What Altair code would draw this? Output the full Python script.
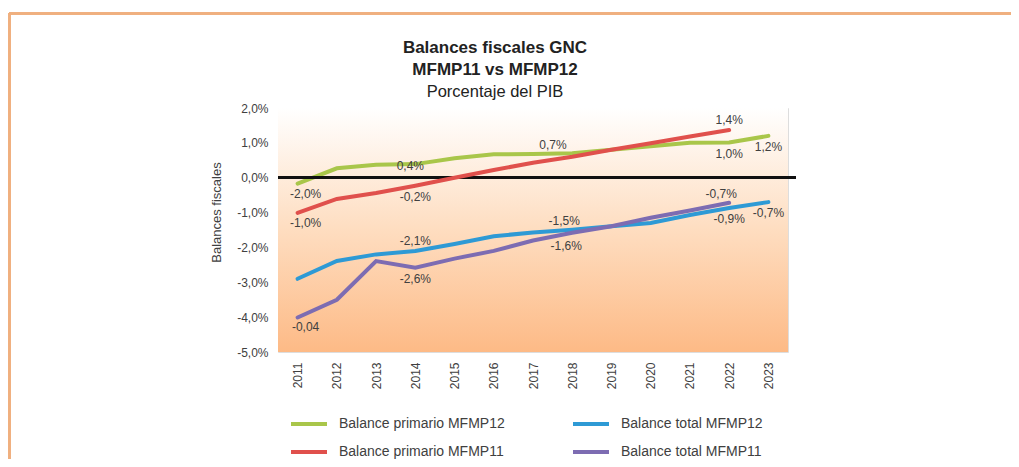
import altair as alt
import pandas as pd

# ---------------- data ----------------
years = ["2011", "2012", "2013", "2014", "2015", "2016", "2017",
         "2018", "2019", "2020", "2021", "2022", "2023"]

series_names = ["Balance primario MFMP12", "Balance total MFMP12",
                "Balance primario MFMP11", "Balance total MFMP11"]

primario_mfmp12 = [-0.17, 0.27, 0.37, 0.39, 0.56, 0.67, 0.68, 0.70, 0.80, 0.90, 1.00, 1.01, 1.20]
total_mfmp12 = [-2.90, -2.39, -2.20, -2.10, -1.90, -1.68, -1.57, -1.49, -1.39, -1.30, -1.07, -0.87, -0.70]
primario_mfmp11 = [-1.01, -0.61, -0.44, -0.23, 0.00, 0.22, 0.43, 0.60, 0.80, 0.99, 1.18, 1.37, None]
total_mfmp11 = [-4.01, -3.50, -2.39, -2.58, -2.32, -2.10, -1.80, -1.58, -1.39, -1.15, -0.94, -0.72, None]

series_colors = ["#A9C64A", "#2E9AD5", "#E0504C", "#7D6CB2"]

label_series = ["Balance primario MFMP12", "Balance primario MFMP12", "Balance primario MFMP12",
                "Balance primario MFMP12", "Balance primario MFMP12",
                "Balance primario MFMP11", "Balance primario MFMP11", "Balance primario MFMP11",
                "Balance total MFMP12", "Balance total MFMP12", "Balance total MFMP12", "Balance total MFMP12",
                "Balance total MFMP11", "Balance total MFMP11", "Balance total MFMP11", "Balance total MFMP11"]
label_years = ["2011", "2014", "2017", "2022", "2023",
               "2011", "2014", "2022",
               "2014", "2018", "2022", "2023",
               "2011", "2014", "2018", "2022"]
label_texts = ["-2,0%", "0,4%", "0,7%", "1,0%", "1,2%",
               "-1,0%", "-0,2%", "1,4%",
               "-2,1%", "-1,5%", "-0,9%", "-0,7%",
               "-0,04", "-2,6%", "-1,6%", "-0,7%"]
label_places = ["below_right", "on", "above_right", "below", "below",
                "below_right", "below", "above",
                "above", "above_left", "below", "below",
                "below_right", "below", "below_left", "above_left"]

# ---------------- tables ----------------
values_by_series = {
    "Balance primario MFMP12": primario_mfmp12,
    "Balance total MFMP12": total_mfmp12,
    "Balance primario MFMP11": primario_mfmp11,
    "Balance total MFMP11": total_mfmp11,
}
rows = []
for s, vals in values_by_series.items():
    for y, v in zip(years, vals):
        if v is not None:
            rows.append({"year": y, "serie": s, "value": v})
df = pd.DataFrame(rows)

lab = pd.DataFrame({"serie": label_series, "year": label_years,
                    "text": label_texts, "place": label_places})
lab = lab.merge(df, on=["serie", "year"], how="left")

# ---------------- layout ----------------
W, H = 510, 244
PAD_L, PAD_T = 270, 100
FONT = "Liberation Sans"
TXT = "#404040"

x_scale = alt.Scale(type="point", padding=0.5, domain=years)
y_scale = alt.Scale(domain=[-5, 2], nice=False, zero=False)

x_axis = alt.Axis(title=None, labelAngle=270, labelFontSize=12, labelColor=TXT,
                  labelFont=FONT, ticks=False, domain=False, labelPadding=10,
                  labelBaseline="middle", labelAlign="right", labelOverlap=False)
y_axis = alt.Axis(title="Balances fiscales", values=[-5, -4, -3, -2, -1, 0, 1, 2],
                  labelExpr="(datum.value < 0 ? '-' : '') + replace(format(abs(datum.value), '.1f'), '.', ',') + '%'",
                  grid=False, ticks=False, domain=False, labelPadding=10,
                  labelOverlap=False, labelFlush=False,
                  labelFontSize=12, labelColor=TXT, labelFont=FONT,
                  titleFont=FONT, titleFontSize=13, titleFontWeight="normal",
                  titleColor=TXT, titleX=-55, titleY=104)

x_enc = alt.X("year:O", scale=x_scale, axis=x_axis)
y_enc = alt.Y("value:Q", scale=y_scale, axis=y_axis)
color_enc = alt.Color("serie:N", scale=alt.Scale(domain=series_names, range=series_colors),
                      legend=alt.Legend(title=None, orient="none", legendX=11, legendY=296,
                                        direction="horizontal",
                                        columns=2, columnPadding=60, rowPadding=-20,
                                        symbolType="stroke", symbolSize=1296,
                                        symbolStrokeWidth=4, labelFontSize=14, labelLimit=0,
                                        labelColor=TXT, labelFont=FONT, labelOffset=10))

background = alt.Chart(df).mark_rect(
    fill=alt.Gradient(gradient="linear", x1=0, x2=0, y1=0, y2=1,
                      stops=[alt.GradientStop(color="#FFFFFF", offset=0),
                             alt.GradientStop(color="#FEDDC0", offset=0.5),
                             alt.GradientStop(color="#FDBA86", offset=1)])
).encode(x=alt.value(0), x2=alt.value(W), y=alt.value(0), y2=alt.value(H))

lines12 = alt.Chart(df).transform_filter(
    alt.FieldOneOfPredicate(field="serie", oneOf=series_names[:2])
).mark_line(strokeWidth=4, strokeCap="round").encode(x=x_enc, y=y_enc, color=color_enc)
lines11 = alt.Chart(df).transform_filter(
    alt.FieldOneOfPredicate(field="serie", oneOf=series_names[2:])
).mark_line(strokeWidth=4, strokeCap="round").encode(x=x_enc, y=y_enc, color=color_enc)

zero = alt.Chart(df).mark_rule(color="#111111", strokeWidth=2).encode(
    y=alt.Y(datum=0, scale=y_scale, axis=y_axis), x=alt.value(0), x2=alt.value(W + 8))

place_offsets = {
    "below": (0, 11), "below_right": (8, 10), "below_left": (-6, 13),
    "above": (0, -10), "above_left": (-8, -9), "above_right": (20, -9),
    "on": (-5, 2),
}
label_layers = []
for place, (dx, dy) in place_offsets.items():
    label_layers.append(
        alt.Chart(lab).transform_filter(alt.datum.place == place).mark_text(
            dx=dx, dy=dy, fontSize=12, font=FONT, color=TXT, baseline="middle", align="center"
        ).encode(x=x_enc, y=y_enc, text="text:N")
    )

frame_color = "#EFB07F"
frame_top = alt.Chart(df).mark_rule(color=frame_color, strokeWidth=1.5).encode(
    x=alt.value(9 - 8 - PAD_L), x2=alt.value(1019), y=alt.value(13.5 - 8 - PAD_T))
frame_left = alt.Chart(df).mark_rule(color=frame_color, strokeWidth=1.5).encode(
    x=alt.value(9.5 - 8 - PAD_L), y=alt.value(13 - 8 - PAD_T), y2=alt.value(400))

chart = alt.layer(background, lines12, zero, lines11, *label_layers, frame_top, frame_left).properties(
    width=W, height=H,
    title=alt.TitleParams(text=["Balances fiscales GNC", "MFMP11 vs MFMP12"],
                          subtitle="Porcentaje del PIB", anchor="middle", dx=-38, dy=93,
                          font=FONT, fontSize=17, fontWeight="bold", color="#222222",
                          lineHeight=22, subtitleFont=FONT, subtitleFontSize=16.5,
                          subtitleColor="#222222", subtitlePadding=5, offset=4),
    autosize=alt.AutoSizeParams(type="none"),
    padding={"left": PAD_L, "top": PAD_T, "right": 223, "bottom": 107},
).configure_view(stroke=None).configure(background="white")

chart.save("out.html", embed_options={"renderer": "svg", "actions": False})
